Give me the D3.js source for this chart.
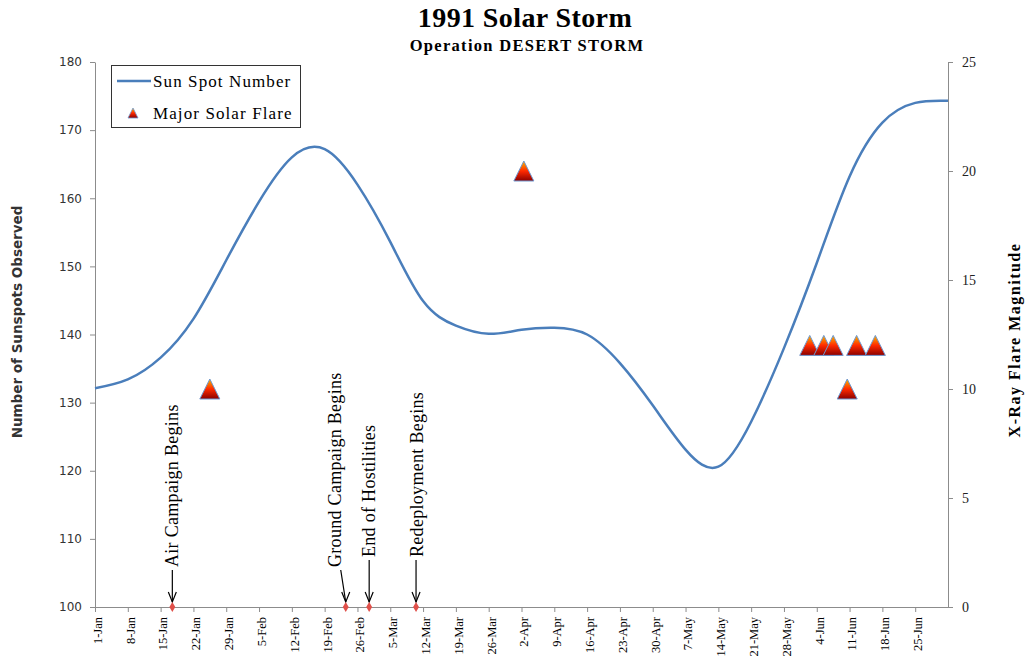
<!DOCTYPE html>
<html>
<head>
<meta charset="utf-8">
<title>1991 Solar Storm</title>
<script src="https://cdnjs.cloudflare.com/ajax/libs/d3/7.8.5/d3.min.js"></script>
<style>
  body { margin: 0; background: #fff; overflow: hidden; }
  svg { display: block; }
  .serif { font-family: "Liberation Serif", "Times New Roman", serif; }
  .sans { font-family: "DejaVu Sans", Verdana, sans-serif; }
</style>
</head>
<body>
<div id="chart"></div>
<script>
var sunspotStart = "1991-01-01";
var sunspotValues = [132.1, 133.4, 136.6, 142.3, 150.9, 159.5, 166.0, 167.2, 162.0,
                     153.6, 144.9, 141.3, 140.1, 140.7, 141.0, 140.0, 135.8, 129.6,
                     123.1, 120.6, 127.2, 138.0, 150.5, 163.2, 171.1, 174.0, 174.3];

// major flares, X-ray magnitude
var flareDates = ["1991-01-25", "1991-04-02", "1991-06-02", "1991-06-05", "1991-06-07", "1991-06-10", "1991-06-12", "1991-06-16"];
var flareMagnitudes = [10, 20, 12, 12, 12, 10, 12, 12];

// Desert Storm events
var eventDates = ["1991-01-17", "1991-02-23", "1991-02-28", "1991-03-10"];
var eventLabels = ["Air Campaign Begins", "Ground Campaign Begins", "End of Hostilities", "Redeployment Begins"];

var leftTicks = [100, 110, 120, 130, 140, 150, 160, 170, 180];
var rightTicks = [0, 5, 10, 15, 20, 25];

var width = 1026, height = 659;
var margin = {top: 62, right: 78, bottom: 52, left: 95};
var parse = d3.timeParse("%Y-%m-%d");
var fmt = d3.timeFormat("%-d-%b");
var noon = function(d) { return d3.timeHour.offset(parse(d), 12); };

var svg = d3.select("#chart").append("svg")
    .attr("width", width)
    .attr("height", height);

var defs = svg.append("defs");
var grad = defs.append("linearGradient")
    .attr("id", "flareGrad")
    .attr("x1", 0).attr("y1", 0).attr("x2", 0).attr("y2", 1);
grad.append("stop").attr("offset", "0%").attr("stop-color", "#f8b800");
grad.append("stop").attr("offset", "50%").attr("stop-color", "#ff2a00");
grad.append("stop").attr("offset", "100%").attr("stop-color", "#8a0000");

var x = d3.scaleTime()
    .domain([parse("1991-01-01"), parse("1991-07-02")])
    .range([margin.left, width - margin.right]);
var y = d3.scaleLinear()
    .domain([100, 180])
    .range([height - margin.bottom, margin.top]);
var y2 = d3.scaleLinear()
    .domain([0, 25])
    .range([height - margin.bottom, margin.top]);

// title
svg.append("text")
    .attr("class", "serif")
    .attr("x", 525).attr("y", 27)
    .attr("text-anchor", "middle")
    .style("font-size", "28px").style("font-weight", "bold")
    .style("letter-spacing", "0.4px")
    .text("1991 Solar Storm");
svg.append("text")
    .attr("class", "serif")
    .attr("x", 527).attr("y", 51)
    .attr("text-anchor", "middle")
    .style("font-size", "16.5px").style("font-weight", "bold")
    .style("letter-spacing", "1.3px")
    .text("Operation DESERT STORM");

// axes
var xTicks = d3.timeDay.range(parse("1991-01-01"), parse("1991-06-30"), 7);
var xAxis = svg.append("g")
    .attr("transform", "translate(0," + y.range()[0] + ")")
    .call(d3.axisBottom(x).tickValues(xTicks).tickFormat(fmt).tickSize(5).tickSizeOuter(0));
xAxis.selectAll("text")
    .attr("class", "serif")
    .style("font-size", "12.5px")
    .attr("transform", "rotate(-90)")
    .attr("text-anchor", "end")
    .attr("x", -10).attr("y", 2)
    .attr("dy", "0.35em");

var yAxis = svg.append("g")
    .attr("transform", "translate(" + margin.left + ",0)")
    .call(d3.axisLeft(y).tickValues(leftTicks).tickSize(5).tickSizeOuter(0));
yAxis.selectAll("text")
    .attr("class", "sans")
    .style("font-size", "12px")
    .attr("x", -13)
    .attr("fill", "#333");

var yAxis2 = svg.append("g")
    .attr("transform", "translate(" + (width - margin.right) + ",0)")
    .call(d3.axisRight(y2).tickValues(rightTicks).tickSize(5).tickSizeOuter(0));
yAxis2.selectAll("text")
    .attr("class", "serif")
    .style("font-size", "14px")
    .attr("x", 14)
    .attr("fill", "#222");

svg.selectAll(".domain, .tick line").attr("stroke", "#8c8c8c");

svg.append("text")
    .attr("class", "sans")
    .attr("transform", "translate(22,322) rotate(-90)")
    .attr("text-anchor", "middle")
    .style("font-size", "13.5px").style("font-weight", "bold").attr("fill", "#333")
    .text("Number of Sunspots Observed");
svg.append("text")
    .attr("class", "serif")
    .attr("transform", "translate(1020,340) rotate(-90)")
    .attr("text-anchor", "middle")
    .style("font-size", "16px").style("font-weight", "bold")
    .style("letter-spacing", "1.5px")
    .text("X-Ray Flare Magnitude");

// sun spot line (one value per week)
var line = d3.line()
    .x(function(d, i) { return x(d3.timeDay.offset(parse(sunspotStart), 7 * i)); })
    .y(function(d) { return y(d); })
    .curve(d3.curveNatural);
svg.append("path")
    .datum(sunspotValues)
    .attr("fill", "none")
    .attr("stroke", "#4a7ebb")
    .attr("stroke-width", 2.5)
    .attr("d", line);

// event markers + labels
var arrowTop = [570, 570, 560, 560];
var arrowShift = [0, -5, 0, 0];
var textBase = [6, 0, 6, 7];
eventDates.forEach(function(d, i) {
    var ex = x(noon(d));
    var ey = y(100);
    svg.append("path")
        .attr("d", "M" + (ex + arrowShift[i]) + "," + arrowTop[i] + "L" + ex + "," + (ey - 5))
        .attr("stroke", "#000").attr("stroke-width", 1.2).attr("fill", "none");
    svg.append("path")
        .attr("d", "M" + (ex - 4) + "," + (ey - 15) + "L" + ex + "," + (ey - 5) + "L" + (ex + 4) + "," + (ey - 15))
        .attr("stroke", "#000").attr("stroke-width", 1.2).attr("fill", "none");
    svg.append("text")
        .attr("class", "serif")
        .attr("transform", "translate(" + (ex + arrowShift[i] + textBase[i]) + "," + (arrowTop[i] - 3) + ") rotate(-90)")
        .style("font-size", "18px")
        .style("letter-spacing", "0.3px")
        .text(eventLabels[i]);
    svg.append("path")
        .attr("d", d3.symbol().type(d3.symbolDiamond).size(30)())
        .attr("transform", "translate(" + ex + "," + ey + ")")
        .attr("fill", "#e0504a");
});

// flares
var tri = "M0,-10L10,10L-10,10Z";
svg.selectAll(".flare")
    .data(flareMagnitudes)
    .enter().append("path")
    .attr("class", "flare")
    .attr("d", tri)
    .attr("transform", function(d, i) { return "translate(" + x(noon(flareDates[i])) + "," + y2(d) + ")"; })
    .attr("fill", "url(#flareGrad)")
    .attr("stroke", "#6f98d0")
    .attr("stroke-width", 1);

// legend
var lg = svg.append("g");
lg.append("rect")
    .attr("x", 111.5).attr("y", 65.5).attr("width", 189).attr("height", 62)
    .attr("fill", "#fff").attr("stroke", "#333").attr("stroke-width", 1);
lg.append("line")
    .attr("x1", 117).attr("x2", 151).attr("y1", 81).attr("y2", 81)
    .attr("stroke", "#4a7ebb").attr("stroke-width", 2.5);
lg.append("text").attr("class", "serif")
    .attr("x", 153).attr("y", 87).style("font-size", "17px")
    .style("letter-spacing", "1.1px")
    .text("Sun Spot Number");
lg.append("path")
    .attr("d", "M0,-5L5,5L-5,5Z")
    .attr("transform", "translate(133,113)")
    .attr("fill", "url(#flareGrad)").attr("stroke", "#6f98d0").attr("stroke-width", 0.8);
lg.append("text").attr("class", "serif")
    .attr("x", 153).attr("y", 119).style("font-size", "17px")
    .style("letter-spacing", "1.1px")
    .text("Major Solar Flare");
</script>
</body>
</html>
